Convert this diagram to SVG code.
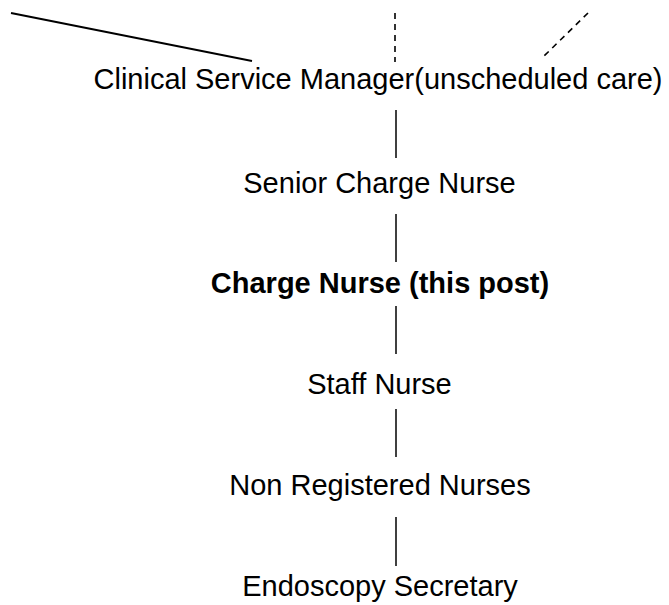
<svg xmlns="http://www.w3.org/2000/svg" width="669" height="605" viewBox="0 0 669 605">
<style>
.t{font-family:"Liberation Sans",Arial,sans-serif;font-size:29px;fill:#000;text-anchor:middle}
.b{font-weight:bold}
.c line{stroke:#000;stroke-width:1.5;fill:none}
.c .s{stroke-width:1.8}
.c .d{stroke-dasharray:6,5;stroke-width:1.6}
</style>
<rect width="669" height="605" fill="#fff"/>
<g class="c" id="connectors">
<line class="s" x1="11" y1="13" x2="252" y2="61"/>
<line class="d" x1="395" y1="13" x2="395" y2="62"/>
<line class="d" x1="588" y1="13" x2="543" y2="57"/>
<line x1="396" y1="110" x2="396" y2="158"/>
<line x1="396" y1="214" x2="396" y2="262"/>
<line x1="396" y1="306" x2="396" y2="354"/>
<line x1="396" y1="409" x2="396" y2="457"/>
<line x1="396" y1="517" x2="396" y2="566"/>
</g>
<g id="n1"><text class="t" x="378" y="89">Clinical Service Manager(unscheduled care)</text></g>
<g id="n2"><text class="t" x="379.5" y="193">Senior Charge Nurse</text></g>
<g id="n3"><text class="t b" x="380" y="293">Charge Nurse (this post)</text></g>
<g id="n4"><text class="t" x="379.5" y="394">Staff Nurse</text></g>
<g id="n5"><text class="t" x="380" y="495">Non Registered Nurses</text></g>
<g id="n6"><text class="t" x="380" y="596">Endoscopy Secretary</text></g>
</svg>
